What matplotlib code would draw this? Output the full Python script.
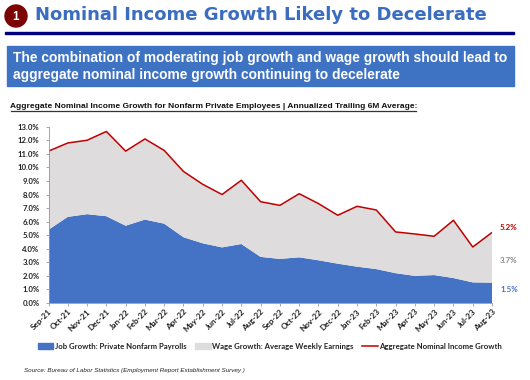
import matplotlib
matplotlib.use("Agg")
import matplotlib.pyplot as plt
from matplotlib.patches import Rectangle, Circle
from matplotlib.lines import Line2D
from matplotlib.patches import Patch

months = ["Sep-21", "Oct-21", "Nov-21", "Dec-21", "Jan-22", "Feb-22", "Mar-22", "Apr-22",
          "May-22", "Jun-22", "Jul-22", "Aug-22", "Sep-22", "Oct-22", "Nov-22", "Dec-22",
          "Jan-23", "Feb-23", "Mar-23", "Apr-23", "May-23", "Jun-23", "Jul-23", "Aug-23"]
job_growth = [5.4, 6.35, 6.55, 6.4, 5.7, 6.15, 5.85, 4.85, 4.4, 4.1, 4.35, 3.4,
              3.25, 3.37, 3.15, 2.9, 2.68, 2.5, 2.2, 2.0, 2.06, 1.84, 1.52, 1.5]
wage_growth = [5.8, 5.45, 5.45, 6.25, 5.5, 5.95, 5.4, 4.85, 4.35, 3.9, 4.7, 4.07,
               3.95, 4.69, 4.18, 3.57, 4.45, 4.36, 3.04, 3.09, 2.86, 4.26, 2.61, 3.7]
income_growth = [11.2, 11.8, 12.0, 12.65, 11.2, 12.1, 11.25, 9.7, 8.75, 8.0, 9.05, 7.47,
                 7.2, 8.06, 7.33, 6.47, 7.13, 6.86, 5.24, 5.09, 4.92, 6.1, 4.13, 5.2]
y_ticks = list(range(0, 14))

W, H = 530, 380
BLUE = "#4472C4"
GREY = "#DEDCDC"
RED = "#C00000"
body_font = "Liberation Sans"
chart_font = "Lato"

fig = plt.figure(figsize=(W / 100, H / 100), dpi=100, facecolor="white")

# page furniture, drawn in pixel coordinates
bg = fig.add_axes([0, 0, 1, 1])
bg.set_xlim(0, W)
bg.set_ylim(H, 0)
bg.axis("off")

bg.add_patch(Circle((16, 16), 11, color="#7B0505"))
bg.text(16, 16.5, "1", color="white", fontsize=8.5, fontweight="bold", family=body_font,
        ha="center", va="center")
bg.text(35, 15.5, "Nominal Income Growth Likely to Decelerate", color="#3A6CC0", fontsize=12.95,
        fontweight="bold", family="DejaVu Sans", va="center")
bg.add_patch(Rectangle((5, 32), 509, 2.2, color="#00007F"))

bg.add_patch(Rectangle((7, 46), 507, 40, color="#3E73C4"))
bg.text(13, 58, "The combination of moderating job growth and wage growth should lead to",
        color="white", fontsize=9.92, fontweight="bold", family=body_font, va="center")
bg.text(13, 75, "aggregate nominal income growth continuing to decelerate",
        color="white", fontsize=9.92, fontweight="bold", family=body_font, va="center")

bg.text(10.5, 106, "Aggregate Nominal Income Growth for Nonfarm Private Employees | Annualized Trailing 6M Average:",
        color="#111111", fontsize=6.07, fontweight="bold", family=body_font, va="center")
bg.plot([10.5, 416], [110.5, 110.5], color="#333333", lw=0.9)

bg.text(24, 370.5, "Source: Bureau of Labor Statistics (Employment Report Establishment Survey )",
        color="#222222", fontsize=4.47, style="italic", family=body_font, va="center")

# chart
left, right, top, bottom = 48.5, 492, 126.7, 303
ax = fig.add_axes([left / W, 1 - bottom / H, (right - left) / W, (bottom - top) / H])
ax.patch.set_alpha(0)
x = list(range(len(months)))
ax.stackplot(x, job_growth, wage_growth, colors=[BLUE, GREY], lw=0)
ax.plot(x, income_growth, color=RED, lw=1.1)

ax.set_xlim(0, len(months) - 1)
ax.set_ylim(0, 13)
ax.set_yticks(y_ticks)
ax.set_yticklabels([f"{v:.1f}%" for v in y_ticks], fontsize=5.6, fontweight="bold",
                   family=chart_font, color="#222222")
ax.set_xticks(x)
ax.set_xticklabels(months, rotation=45, ha="right", rotation_mode="anchor", fontsize=5.9,
                   fontweight="bold", family=chart_font, color="#222222")
ax.tick_params(axis="both", length=2, width=0.6, color="#999999", pad=1.5)
ax.tick_params(axis="y", pad=4.5)
ax.spines["top"].set_visible(False)
ax.spines["right"].set_visible(False)
ax.spines["left"].set_color("#999999")
ax.spines["bottom"].set_color("#999999")
ax.spines["left"].set_linewidth(0.6)
ax.spines["bottom"].set_linewidth(0.6)

# end labels
bg.text(508, 227, "5.2%", color=RED, fontsize=5.8, fontweight="bold", family=chart_font,
        ha="center", va="center")
bg.text(508.5, 260.5, "3.7%", color="#8A8A8A", fontsize=5.8, fontweight="bold", family=chart_font,
        ha="center", va="center")
bg.text(509, 289, "1.5%", color=BLUE, fontsize=5.8, fontweight="bold", family=chart_font,
        ha="center", va="center")

# legend
handles = [Patch(color=BLUE), Patch(color=GREY), Line2D([0], [0], color=RED, lw=1.1)]
labels = ["Job Growth: Private Nonfarm Payrolls", "Wage Growth: Average Weekly Earnings",
          "Aggregate Nominal Income Growth"]
fig.legend(handles, labels, loc="center", bbox_to_anchor=(270 / W, 1 - 346 / H), ncol=3, frameon=False,
           prop={"family": chart_font, "weight": "bold", "size": 5.6}, handlelength=2.0, handleheight=0.8,
           handletextpad=0.2, columnspacing=1.1, borderpad=0, labelcolor="#222222")

fig.savefig("out.png", dpi=100)
